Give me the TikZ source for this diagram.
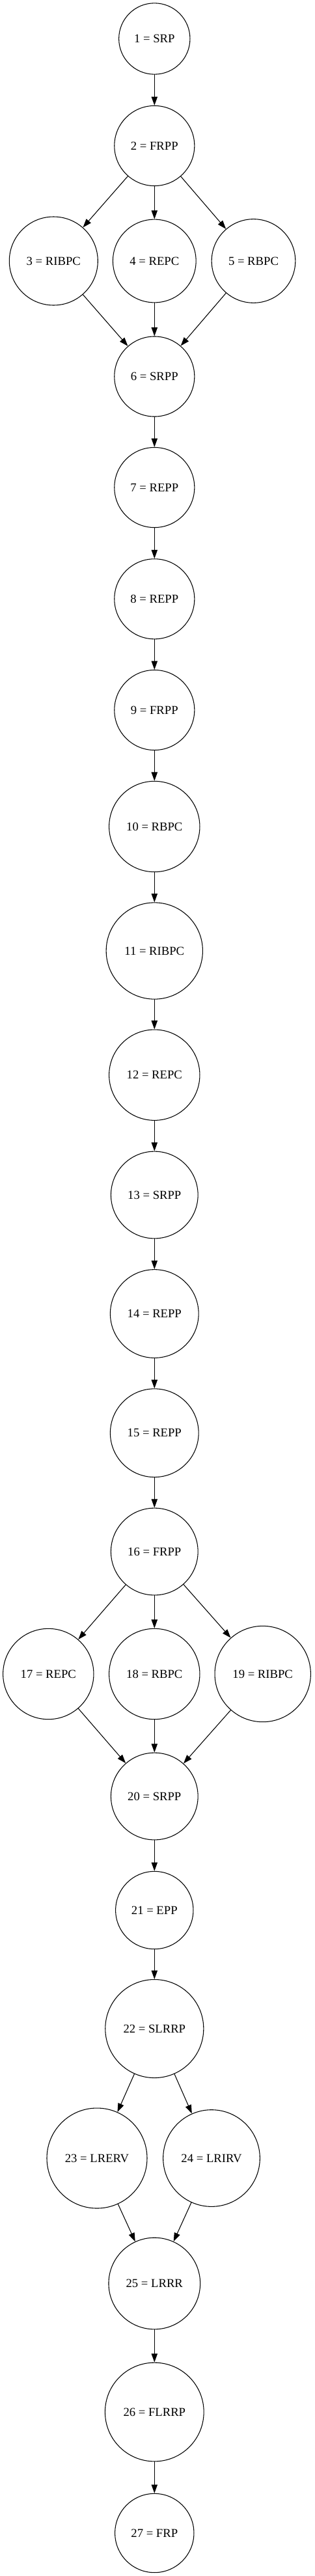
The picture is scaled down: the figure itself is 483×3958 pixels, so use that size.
\documentclass[tikz,border=0pt]{standalone}
\usepackage{fontspec}
\setmainfont{Liberation Serif}
\usepackage{tikz}
\usetikzlibrary{arrows.meta}

\begin{document}
\begin{tikzpicture}
			[x=0.75pt,y=-0.75pt,line cap=round,
			%Styles
			state/.style={circle,draw,line width=0.8pt,inner sep=0pt,font=\fontsize{14}{16.8}\selectfont},
			flow/.style={line width=0.8pt,-{Triangle[length=10pt,width=7pt]}}
			]
			
			\useasboundingbox (0,0) rectangle (483,3958);
			
			%The graphic
			\node[state,minimum size=82pt] (n1) at (237.3,59.5) {1 = SRP};
			\node[state,minimum size=92.3pt] (n2) at (237.3,224) {2 = FRPP};
			\node[state,minimum size=102pt] (n3) at (82.3,401) {3 = RIBPC};
			\node[state,minimum size=95.8pt] (n4) at (237.3,401) {4 = REPC};
			\node[state,minimum size=96.5pt] (n5) at (389.5,401) {5 = RBPC};
			\node[state,minimum size=92.3pt] (n6) at (237.3,578.5) {6 = SRPP};
			\node[state,minimum size=92.3pt] (n7) at (237.3,749) {7 = REPP};
			\node[state,minimum size=92.3pt] (n8) at (237.3,920.3) {8 = REPP};
			\node[state,minimum size=92.3pt] (n9) at (237.3,1091) {9 = FRPP};
			\node[state,minimum size=104.5pt] (n10) at (237.3,1270) {10 = RBPC};
			\node[state,minimum size=111.2pt] (n11) at (237.3,1461) {11 = RIBPC};
			\node[state,minimum size=104.5pt] (n12) at (237.3,1651.7) {12 = REPC};
			\node[state,minimum size=100.3pt] (n13) at (237.3,1836) {13 = SRPP};
			\node[state,minimum size=101.8pt] (n14) at (237.3,2018.5) {14 = REPP};
			\node[state,minimum size=101.8pt] (n15) at (237.3,2201.7) {15 = REPP};
			\node[state,minimum size=100.3pt] (n16) at (237.3,2384) {16 = FRPP};
			\node[state,minimum size=104.5pt] (n17) at (74.3,2572) {17 = REPC};
			\node[state,minimum size=104.5pt] (n18) at (237.3,2572) {18 = RBPC};
			\node[state,minimum size=110.5pt] (n19) at (403.7,2572) {19 = RIBPC};
			\node[state,minimum size=100.3pt] (n20) at (237.3,2760) {20 = SRPP};
			\node[state,minimum size=89.5pt] (n21) at (237.3,2935) {21 = EPP};
			\node[state,minimum size=113.3pt] (n22) at (237.3,3117) {22 = SLRRP};
			\node[state,minimum size=115.5pt] (n23) at (149,3316) {23 = LRERV};
			\node[state,minimum size=111.5pt] (n24) at (325,3316) {24 = LRIRV};
			\node[state,minimum size=105.5pt] (n25) at (237.3,3508.5) {25 = LRRR};
			\node[state,minimum size=113.8pt] (n26) at (237.3,3706) {26 = FLRRP};
			\node[state,minimum size=91pt] (n27) at (237.3,3892) {27 = FRP};
			
			\path[flow]
				(n1) edge (n2)
				(n2) edge (n3)
					edge (n4)
					edge (n5)
				(n3) edge (n6)
				(n4) edge (n6)
				(n5) edge (n6)
				(n6) edge (n7)
				(n7) edge (n8)
				(n8) edge (n9)
				(n9) edge (n10)
				(n10) edge (n11)
				(n11) edge (n12)
				(n12) edge (n13)
				(n13) edge (n14)
				(n14) edge (n15)
				(n15) edge (n16)
				(n16) edge (n17)
					edge (n18)
					edge (n19)
				(n17) edge (n20)
				(n18) edge (n20)
				(n19) edge (n20)
				(n20) edge (n21)
				(n21) edge (n22)
				(n22) edge (n23)
					edge (n24)
				(n23) edge (n25)
				(n24) edge (n25)
				(n25) edge (n26)
				(n26) edge (n27);
		\end{tikzpicture}
\end{document}
